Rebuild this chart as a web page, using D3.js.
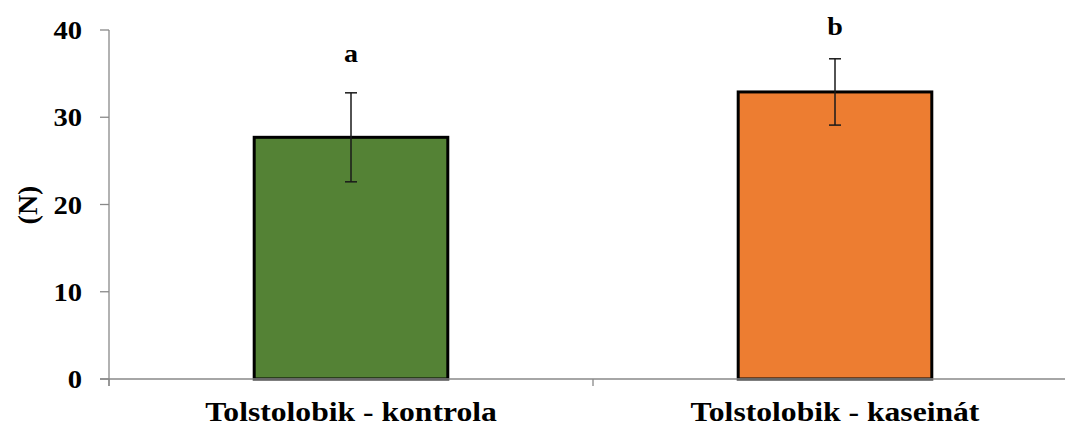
<!DOCTYPE html>
<meta charset="utf-8">
<style>
body { margin: 0; background: #fff; }
svg { display: block; }
text { font-family: "Liberation Serif", "Times New Roman", serif; font-weight: bold; fill: #000; }
.axis line, .axis path { stroke: #898989; stroke-width: 1.3; fill: none; }
</style>
<body>
<svg width="1065" height="430"></svg>
<script src="https://d3js.org/d3.v7.min.js"></script>
<script>
// data
let categories = ['Tolstolobik - kontrola', 'Tolstolobik - kaseinát'];
let means = [27.7, 32.9];
let errors = [5.1, 3.8];
let letters = ['a', 'b'];
let letterPos = [36.3, 39.4];
let colors = ['#548235', '#ED7D31'];
let yTicks = [0, 10, 20, 30, 40];

let data = categories.map((c, i) => ({cat: c, mean: means[i], err: errors[i], letter: letters[i], lpos: letterPos[i], color: colors[i]}));

var svg = d3.select('svg');

var xScale = d3.scaleBand()
    .domain(categories)
    .range([109, 1077]);

var yScale = d3.scaleLinear()
    .domain([0, 40])
    .range([379, 30]);

var barW = xScale.bandwidth() * 0.4;
var mid = d => xScale(d) + xScale.bandwidth() / 2;

// text in the original is a bit wider than plain Times
function wideText(sel, x, y, sx, size, anchor) {
  return sel.append('text')
    .attr('transform', d => 'translate(' + x(d) + ',' + y(d) + ') scale(' + sx + ',1)')
    .attr('text-anchor', anchor)
    .style('font-size', size + 'px');
}

// bars
svg.selectAll('.bar')
    .data(data)
    .enter().append('rect')
    .attr('class', 'bar')
    .attr('x', d => mid(d.cat) - barW / 2)
    .attr('y', d => yScale(d.mean))
    .attr('width', barW)
    .attr('height', d => yScale(0) - yScale(d.mean))
    .attr('fill', d => d.color)
    .attr('stroke', '#000')
    .attr('stroke-width', 3);

// y axis
var yAxis = svg.append('g').attr('class', 'axis');
yAxis.append('line')
    .attr('x1', 109).attr('x2', 109)
    .attr('y1', yScale(40)).attr('y2', yScale(0) + 7);
yAxis.selectAll('.tk')
    .data(yTicks)
    .enter().append('line')
    .attr('x1', 100).attr('x2', 109)
    .attr('y1', d => yScale(d)).attr('y2', d => yScale(d));
yAxis.selectAll('.lab')
    .data(yTicks)
    .enter().call(s => wideText(s, d => 82, d => yScale(d) + 9, 1.1, 26, 'end').text(d => d));

// x axis
var xAxis = svg.append('g').attr('class', 'axis');
xAxis.append('line')
    .attr('x1', 100).attr('x2', 1077)
    .attr('y1', yScale(0)).attr('y2', yScale(0));
xAxis.selectAll('.tk')
    .data([0, 1, 2])
    .enter().append('line')
    .attr('x1', d => 109 + d * xScale.step())
    .attr('x2', d => 109 + d * xScale.step())
    .attr('y1', yScale(0)).attr('y2', yScale(0) + 7);

// error bars
var eb = svg.selectAll('.err')
    .data(data)
    .enter().append('g')
    .attr('class', 'err')
    .attr('stroke', '#1a1a1a')
    .attr('stroke-width', 1.5);
eb.append('line')
    .attr('x1', d => mid(d.cat))
    .attr('x2', d => mid(d.cat))
    .attr('y1', d => yScale(d.mean + d.err))
    .attr('y2', d => yScale(d.mean - d.err));
eb.selectAll('.cap')
    .data(d => [d.mean + d.err, d.mean - d.err].map(v => ({v: v, cx: mid(d.cat)})))
    .enter().append('line')
    .attr('x1', d => d.cx - 6)
    .attr('x2', d => d.cx + 6)
    .attr('y1', d => yScale(d.v))
    .attr('y2', d => yScale(d.v));

// significance letters
svg.selectAll('.letter')
    .data(data)
    .enter().call(s => wideText(s, d => mid(d.cat), d => yScale(d.lpos), 1.08, 26, 'middle').text(d => d.letter));

// category labels
svg.selectAll('.cat')
    .data(categories)
    .enter().call(s => wideText(s, d => mid(d), d => 421, 1.13, 28, 'middle').text(d => d));

// y title
svg.append('text')
    .attr('transform', 'translate(37,205) rotate(-90)')
    .attr('text-anchor', 'middle')
    .style('font-size', '28px')
    .text('(N)');
</script>
</body>
